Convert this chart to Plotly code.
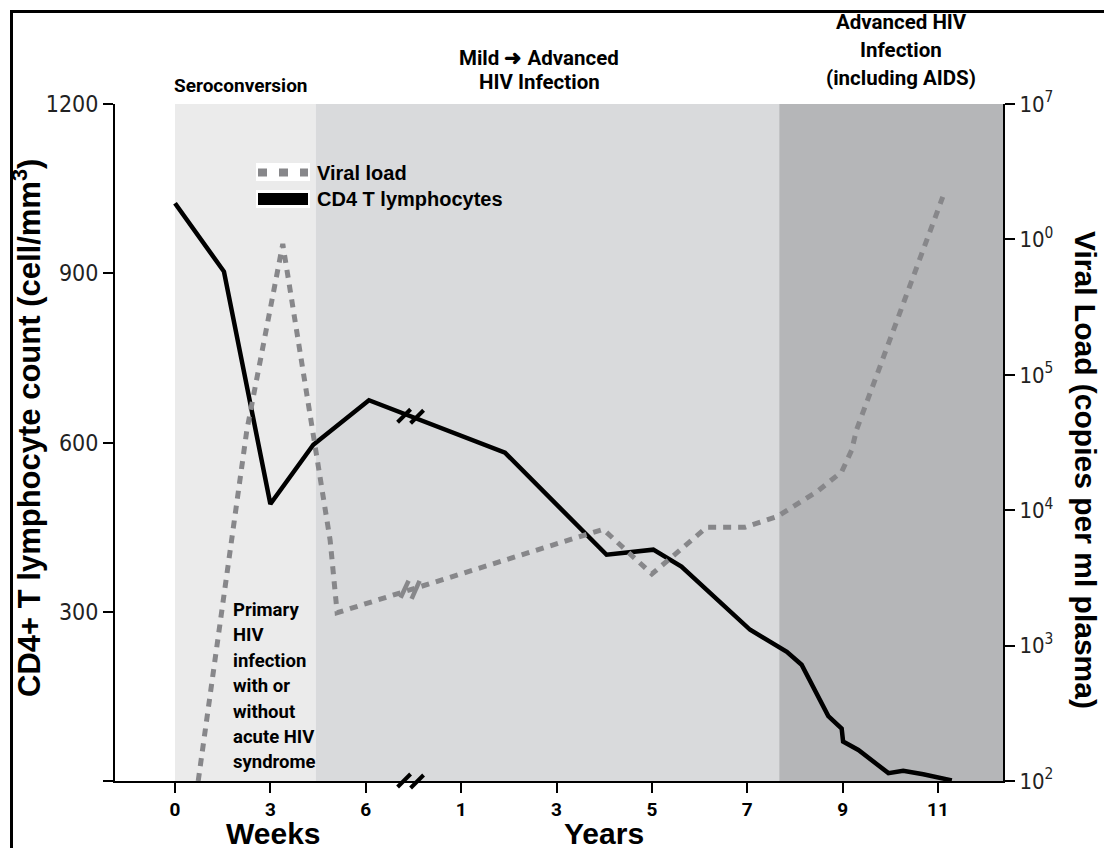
import numpy as np
import plotly.graph_objects as go

# ---------------- data ----------------
# CD4 T lymphocyte count (cells/mm3): early phase in weeks, later phase in years
cd4_weeks = [0, 1.54, 3.0, 4.35, 6.1]
cd4_weeks_vals = [1024, 903, 491, 596, 675]
cd4_years = [1.92, 4.05, 5.03, 5.62, 7.06, 7.83, 8.14, 8.70, 8.98, 9.01, 9.33, 9.96, 10.27, 10.69, 11.29]
cd4_years_vals = [582, 401, 410, 380, 268, 229, 206, 115, 93, 70, 55, 14, 18, 12, 1]

# Viral load (copies per ml plasma)
viral_weeks = [0.73, 2.26, 3.39, 4.88, 5.1]
viral_weeks_vals = [100, 39000, 925000, 6000, 1750]
viral_years = [3.07, 3.98, 5.0, 6.15, 6.95, 7.62, 8.46, 8.98, 9.19, 9.29, 11.1]
viral_years_vals = [5700, 7230, 3380, 7480, 7480, 8950, 13700, 19200, 27800, 39100, 2060000]

# phase boundaries
seroconversion_end_weeks = 4.43
advanced_start_years = 7.67

# ticks
week_ticks = [0, 3, 6]
year_ticks = [1, 3, 5, 7, 9, 11]
cd4_ticks = [300, 600, 900, 1200]
viral_ticks = [1e2, 1e3, 1e4, 1e5, 1e6, 1e7]
viral_tick_labels = ["10<sup>2</sup>", "10<sup>3</sup>", "10<sup>4</sup>",
                     "10<sup>5</sup>", "10<sup>0</sup>", "10<sup>7</sup>"]

# ---------------- helpers ----------------
def weeks_to_axis(w):
    return np.asarray(w, dtype=float) / 3.0

def years_to_axis(y):
    return 3.0 + (np.asarray(y, dtype=float) - 1.0) / 2.0

BREAK_POS = 2.47  # axis break between weeks and years

cd4_x = np.concatenate([weeks_to_axis(cd4_weeks), years_to_axis(cd4_years)])
cd4_y = np.array(cd4_weeks_vals + cd4_years_vals, dtype=float)
vl_x = np.concatenate([weeks_to_axis(viral_weeks), years_to_axis(viral_years)])
vl_y = np.array(viral_weeks_vals + viral_years_vals, dtype=float)

# plot area geometry (pixels)
L, R, T, B = 115, 1003, 104, 781
W_FIG, H_FIG = 1104, 848
X_LO = (L - 175) / 95.375
X_HI = (R - 175) / 95.375

def px(x):
    return (x - L) / (R - L)

def py(y):
    return (B - y) / (B - T)

COND = "Roboto, Liberation Sans, Arial, sans-serif"
TICKF = "DejaVu Sans Condensed, Liberation Sans, Arial, sans-serif"
REG = "Liberation Sans, Arial, sans-serif"

fig = go.Figure()

fig.add_trace(go.Scatter(
    x=vl_x, y=vl_y, mode="lines", name="Viral load", yaxis="y2",
    line=dict(color="#87878a", width=5, dash="8px,7px"), showlegend=False))
fig.add_trace(go.Scatter(
    x=cd4_x, y=cd4_y, mode="lines", name="CD4 T lymphocytes",
    line=dict(color="black", width=4.5), showlegend=False))

shapes = []
# shaded phases
shade = [
    (weeks_to_axis(0), weeks_to_axis(seroconversion_end_weeks), "#ebebeb"),
    (weeks_to_axis(seroconversion_end_weeks), years_to_axis(advanced_start_years), "#d9dadc"),
    (years_to_axis(advanced_start_years), X_HI, "#b5b6b8"),
]
for x0, x1, c in shade:
    shapes.append(dict(type="rect", xref="x", yref="paper", x0=float(x0), x1=float(x1),
                       y0=0, y1=1, fillcolor=c, line=dict(width=0), layer="below"))

# x axis line extension left of the y axis
shapes.append(dict(type="line", xref="paper", yref="paper", x0=px(103), x1=0, y0=0, y1=0,
                   line=dict(color="black", width=2)))

# break marks
def break_marks(yanchor, strokes, color, width):
    out = []
    for (a, b, c, d) in strokes:
        out.append(dict(type="line", xref="x", yref="paper", xsizemode="pixel", ysizemode="pixel",
                        xanchor=BREAK_POS, yanchor=yanchor, x0=a, y0=b, x1=c, y1=d,
                        line=dict(color=color, width=width), layer="above"))
    return out

slash = [(-13, -6, 0, 7), (0, -7, 13, 6)]
shapes += break_marks(0, slash, "black", 4)
cd4_break = float(np.interp(BREAK_POS, cd4_x, cd4_y)) / 1200
shapes += break_marks(cd4_break, slash, "black", 4)
vl_break = (float(np.interp(BREAK_POS, vl_x, np.log10(vl_y))) - 2) / 5
shapes += break_marks(vl_break, [(-10, -8, -2, 9), (1, -9, 9, 9)], "#87878a", 4.5)

# legend (drawn manually)
shapes.append(dict(type="rect", xref="paper", yref="paper", x0=px(256), x1=px(310),
                   y0=py(181), y1=py(163), fillcolor="white", line=dict(width=0), layer="above"))
shapes.append(dict(type="line", xref="paper", yref="paper", x0=px(258), x1=px(308),
                   y0=py(172.5), y1=py(172.5), line=dict(color="#87878a", width=8, dash="9px,12px"),
                   layer="above"))
shapes.append(dict(type="rect", xref="paper", yref="paper", x0=px(256), x1=px(310),
                   y0=py(208), y1=py(190), fillcolor="white", line=dict(width=0), layer="above"))
shapes.append(dict(type="line", xref="paper", yref="paper", x0=px(258), x1=px(308),
                   y0=py(199), y1=py(199), line=dict(color="black", width=12), layer="above"))

# outer frame
shapes.append(dict(type="rect", xref="paper", yref="paper", x0=px(11.5), x1=px(1115),
                   y0=py(860), y1=py(11.5), line=dict(color="black", width=3), layer="above"))

annotations = []
def ann(text, x, y, size, bold=True, family=COND, xanchor="center", angle=0):
    annotations.append(dict(text=text, x=px(x), y=py(y), xref="paper", yref="paper",
                            xanchor=xanchor, yanchor="middle", showarrow=False, textangle=angle,
                            font=dict(size=size, family=family, color="black",
                                      weight="bold" if bold else "normal")))

ann("Seroconversion", 241, 86, 19)
ann("Mild \u279c Advanced", 539, 58, 20.5)
ann("HIV Infection", 539, 82, 20.5)
ann("Advanced HIV", 901, 22, 20.5)
ann("Infection", 901, 50, 20.5)
ann("(including AIDS)", 901, 78, 20.5)

primary = ["Primary", "HIV", "infection", "with or", "without", "acute HIV", "syndrome"]
for i, line in enumerate(primary):
    ann(line, 231, 610 + 25.4 * i, 18.5, xanchor="left")

ann("Viral load", 315, 172.5, 20, family=REG, xanchor="left")
ann("CD4 T lymphocytes", 315, 199, 20, family=REG, xanchor="left")

ann("Weeks", 273, 833, 30, family=REG)
ann("Years", 604, 833, 30, family=REG)
ann("CD4+ T lymphocyte count (cell/mm<sup>3</sup>)", 27, 428, 31, family=REG, angle=-90)
ann("Viral Load (copies per ml plasma)", 1086, 470, 30, family=REG, angle=90)

tick_pos = list(weeks_to_axis(week_ticks)) + list(years_to_axis(year_ticks))
tick_txt = [str(v) for v in week_ticks] + [str(v) for v in year_ticks]

fig.update_layout(
    width=W_FIG, height=H_FIG,
    margin=dict(l=L, r=W_FIG - R, t=T, b=H_FIG - B, pad=0),
    paper_bgcolor="white", plot_bgcolor="rgba(0,0,0,0)",
    showlegend=False,
    xaxis=dict(range=[X_LO, X_HI], tickvals=tick_pos, ticktext=tick_txt,
               showline=True, linecolor="black", linewidth=2, ticks="outside",
               ticklen=10, tickwidth=2, tickcolor="black", showgrid=False, zeroline=False,
               tickfont=dict(size=19, family=COND, color="black", weight="bold")),
    yaxis=dict(range=[0, 1200], tickvals=cd4_ticks, showline=True, linecolor="black",
               linewidth=2, ticks="outside", ticklen=10, tickwidth=2, tickcolor="black",
               showgrid=False, zeroline=False,
               tickfont=dict(size=23, family=TICKF, color="#222")),
    yaxis2=dict(type="log", range=[2, 7], overlaying="y", side="right",
                tickvals=viral_ticks, ticktext=viral_tick_labels, showline=True,
                linecolor="black", linewidth=2, ticks="outside", ticklen=10, tickwidth=2,
                tickcolor="black", showgrid=False, zeroline=False,
                tickfont=dict(size=22, family=TICKF, color="#222")),
    shapes=shapes, annotations=annotations,
)

fig.write_html("out.html")
